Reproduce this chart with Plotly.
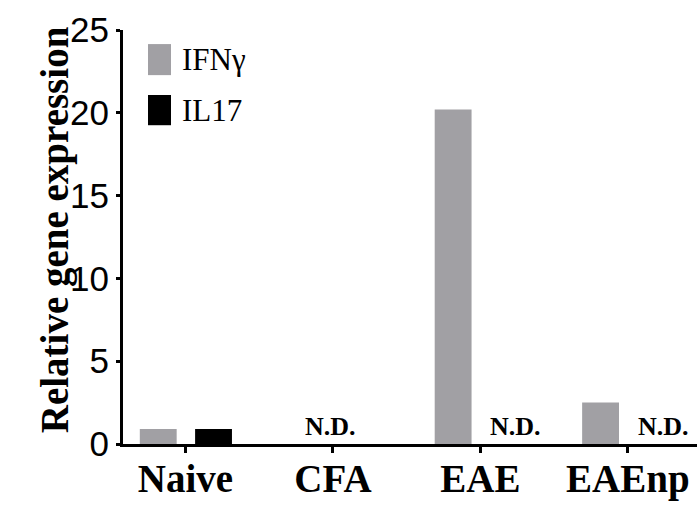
import plotly.graph_objects as go

categories = ["Naive", "CFA", "EAE", "EAEnp"]
ifng = [0.9, None, 20.2, 2.5]
il17 = [0.9, None, None, None]
series_names = ["IFNγ", "IL17"]
series_colors = ["#A1A0A4", "#000000"]
y_ticks = [0, 5, 10, 15, 20, 25]
nd_text = "N.D."
y_title = "Relative gene expression"

BAR_W = 0.25
fig = go.Figure()
fig.add_trace(go.Bar(x=categories, y=ifng, name=series_names[0], marker_color=series_colors[0],
                     marker_line_width=0, width=BAR_W, offset=-0.31, showlegend=False))
fig.add_trace(go.Bar(x=categories, y=il17, name=series_names[1], marker_color=series_colors[1],
                     marker_line_width=0, width=BAR_W, offset=0.065, showlegend=False))

# N.D. labels
for i, (a, b) in enumerate(zip(ifng, il17)):
    if a is None and b is None:
        xpos = i - 0.02
    elif b is None:
        xpos = i + 0.24
    else:
        continue
    fig.add_annotation(x=xpos, y=0, xref="x", yref="y", text=nd_text, showarrow=False,
                       yanchor="bottom", xanchor="center", yshift=1,
                       font=dict(family="Liberation Serif", size=26, color="black", weight="bold"))

# custom legend keys
leg = [(0.966, 0.891), (0.843, 0.770)]
for (y1, y0), name, col in zip(leg, series_names, series_colors):
    fig.add_shape(type="rect", xref="paper", yref="paper", x0=0.0436, x1=0.0836, y0=y0, y1=y1,
                  fillcolor=col, line_width=0)
    fig.add_annotation(xref="paper", yref="paper", x=0.1, y=(y0 + y1) / 2, text=name,
                       showarrow=False, xanchor="left", yanchor="middle",
                       font=dict(family="Liberation Serif", size=31, color="black"))

# y-axis title
fig.add_annotation(xref="paper", yref="paper", x=-0.118, y=0.517, text=y_title, textangle=-90,
                   showarrow=False, xanchor="center", yanchor="middle",
                   font=dict(family="Liberation Serif", size=39, color="black", weight="bold"))

fig.update_layout(
    width=700, height=506,
    margin=dict(l=123, r=3, t=30, b=62),
    plot_bgcolor="white", paper_bgcolor="white",
    showlegend=False,
    xaxis=dict(type="category", range=[-0.424, 3.469], showline=True, linewidth=3, linecolor="black",
               ticks="outside", ticklen=6, tickwidth=3, tickcolor="black", showgrid=False,
               automargin=False, ticklabelstandoff=-8,
               tickfont=dict(family="Liberation Serif", size=39, color="black", weight="bold")),
    yaxis=dict(range=[0, 25], tickvals=y_ticks, showline=True, linewidth=3, linecolor="black",
               ticks="outside", ticklen=4, tickwidth=3, tickcolor="black", showgrid=False, zeroline=False,
               automargin=False, ticklabelstandoff=0,
               tickfont=dict(family="Liberation Sans", size=35, color="black")),
)
fig.write_html("out.html", config={"displayModeBar": False},
               post_script="document.body.style.margin='0';document.body.style.overflow='hidden';")
